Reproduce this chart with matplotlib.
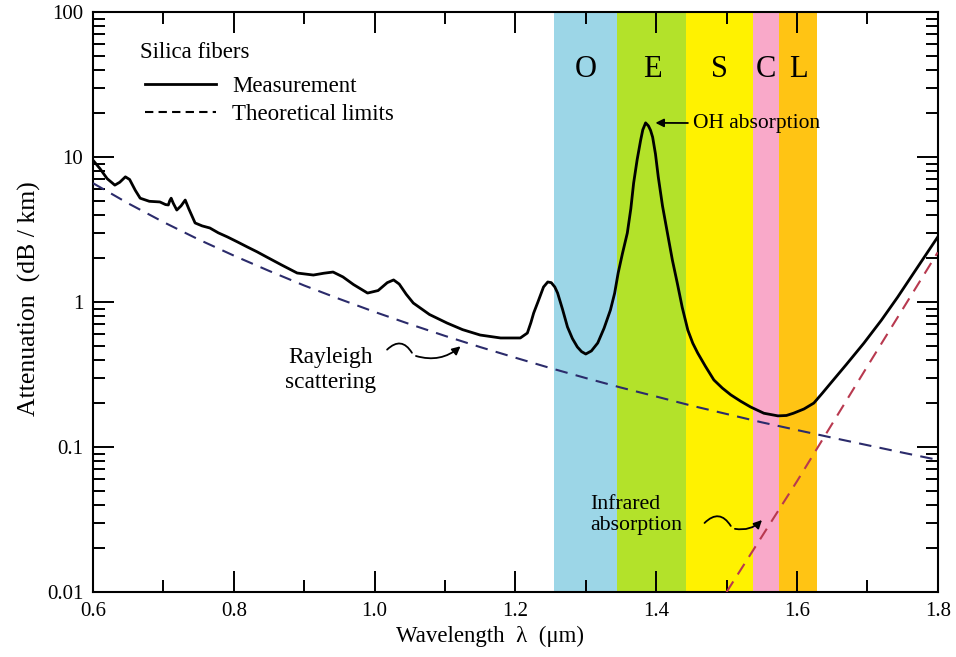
import matplotlib
matplotlib.use("Agg")
import matplotlib.pyplot as plt
from matplotlib.lines import Line2D
from matplotlib.ticker import FixedLocator, LogLocator, NullFormatter

plt.rcParams["font.family"] = ["Liberation Serif", "DejaVu Serif"]

meas_wl = [0.600, 0.610, 0.620, 0.631, 0.638, 0.646, 0.652, 0.660, 0.667, 0.680,
           0.695, 0.703, 0.707, 0.709, 0.711, 0.714, 0.719, 0.725, 0.731, 0.736,
           0.745, 0.755, 0.766, 0.778, 0.791, 0.805, 0.819, 0.833, 0.847, 0.868,
           0.890, 0.913, 0.928, 0.941, 0.955, 0.970, 0.990, 1.005, 1.018, 1.027,
           1.035, 1.045, 1.055, 1.078, 1.103, 1.125, 1.150, 1.179, 1.207, 1.217,
           1.222, 1.226, 1.232, 1.240, 1.246, 1.251, 1.256, 1.260, 1.267, 1.274,
           1.281, 1.288, 1.294, 1.300, 1.308, 1.317, 1.326, 1.335, 1.341, 1.346,
           1.352, 1.359, 1.364, 1.368, 1.373, 1.378, 1.381, 1.385, 1.389, 1.392,
           1.395, 1.399, 1.403, 1.409, 1.416, 1.423, 1.430, 1.437, 1.445, 1.452,
           1.459, 1.470, 1.482, 1.494, 1.506, 1.520, 1.534, 1.553, 1.573, 1.585,
           1.595, 1.610, 1.624, 1.636, 1.648, 1.670, 1.695, 1.720, 1.743, 1.770,
           1.800]
meas_db = [9.5, 8.3, 7.1, 6.4, 6.7, 7.3, 7.0, 5.9, 5.2, 4.95,
           4.9, 4.7, 4.67, 5.0, 5.2, 4.8, 4.31, 4.6, 5.05, 4.4,
           3.51, 3.35, 3.24, 3.0, 2.81, 2.6, 2.40, 2.22, 2.04, 1.80,
           1.585, 1.535, 1.58, 1.61, 1.49, 1.32, 1.153, 1.20, 1.36, 1.42,
           1.33, 1.13, 0.984, 0.82, 0.716, 0.645, 0.592, 0.565, 0.565, 0.611,
           0.72, 0.84, 1.0, 1.27, 1.375, 1.36, 1.27, 1.153, 0.89, 0.673,
           0.56, 0.49, 0.455, 0.438, 0.46, 0.522, 0.66, 0.88, 1.15, 1.585,
           2.15, 2.99, 4.4, 6.62, 9.6, 13.1, 15.4, 17.2, 16.4, 15.3,
           13.7, 10.5, 7.28, 4.6, 2.99, 1.95, 1.35, 0.92, 0.64, 0.52,
           0.445, 0.36, 0.29, 0.255, 0.229, 0.207, 0.189, 0.171, 0.164, 0.165,
           0.171, 0.183, 0.201, 0.235, 0.276, 0.37, 0.52, 0.75, 1.08, 1.7,
           2.81]

# theoretical limits
rayleigh_wl = [0.60, 0.65, 0.70, 0.75, 0.80, 0.85, 0.90, 0.95, 1.00, 1.05, 1.10, 1.15, 1.20,
               1.25, 1.30, 1.35, 1.40, 1.45, 1.50, 1.55, 1.60, 1.65, 1.70, 1.75, 1.80]
rayleigh_db = [6.6, 4.79, 3.56, 2.70, 2.09, 1.64, 1.30, 1.05, 0.855, 0.704, 0.584, 0.489, 0.413,
               0.350, 0.299, 0.257, 0.223, 0.193, 0.169, 0.148, 0.131, 0.116, 0.103, 0.0915, 0.0815]
ir_wl = [1.50, 1.60, 1.70, 1.80]
ir_db = [0.01, 0.058, 0.36, 2.2]

# telecom bands
band_names = ["O", "E", "S", "C", "L"]
band_start = [1.255, 1.345, 1.443, 1.537, 1.575]
band_end = [1.345, 1.443, 1.537, 1.575, 1.629]
band_colors = ["#9cd6e7", "#b3e22a", "#fff200", "#f9a9c9", "#ffc414"]

fig = plt.figure(figsize=(9.56, 6.57), dpi=100)
ax = fig.add_axes([0.0973, 0.0989, 0.8836, 0.8828])

for name, s, e, c in zip(band_names, band_start, band_end, band_colors):
    ax.axvspan(s, e, color=c, lw=0, zorder=0)
    ax.text((s + e) / 2, 40, name, ha="center", va="center", fontsize=22, zorder=3)

ax.plot(meas_wl, meas_db, color="black", lw=2.0, zorder=4, solid_joinstyle="round")
ax.plot(rayleigh_wl, rayleigh_db, color="#2b2b6b", lw=1.5, ls=(0, (6, 4)), zorder=3)
ax.plot(ir_wl, ir_db, color="#b8394f", lw=1.5, ls=(0, (6, 4)), zorder=3)

ax.set_yscale("log")
ax.set_xlim(0.6, 1.8)
ax.set_ylim(0.01, 100)
ax.xaxis.set_major_locator(FixedLocator([0.6, 0.8, 1.0, 1.2, 1.4, 1.6, 1.8]))
ax.xaxis.set_minor_locator(FixedLocator([0.7, 0.9, 1.1, 1.3, 1.5, 1.7]))
ax.set_xticklabels(["0.6", "0.8", "1.0", "1.2", "1.4", "1.6", "1.8"])
ax.yaxis.set_major_locator(FixedLocator([0.01, 0.1, 1, 10, 100]))
ax.set_yticklabels(["0.01", "0.1", "1", "10", "100"])
ax.yaxis.set_minor_locator(LogLocator(base=10, subs=range(2, 10)))
ax.yaxis.set_minor_formatter(NullFormatter())

ax.tick_params(which="both", direction="in", top=True, right=True, width=1.4, labelsize=15)
ax.tick_params(which="major", length=15, pad=7)
ax.tick_params(which="minor", length=8.5)
for sp in ax.spines.values():
    sp.set_linewidth(1.5)

ax.set_xlabel("Wavelength  λ  (μm)", fontsize=16.5)
ax.xaxis.set_label_coords(0.47, -0.058)
ax.set_ylabel("Attenuation  (dB / km)", fontsize=18.5)
ax.yaxis.set_label_coords(-0.062, 0.505)

# legend
ax.text(0.056, 0.93, "Silica fibers", transform=ax.transAxes, fontsize=16.5,
        ha="left", va="center")
handles = [Line2D([], [], color="black", lw=2.0),
           Line2D([], [], color="black", lw=1.5, ls=(0, (4, 2.5)))]
ax.legend(handles, ["Measurement", "Theoretical limits"],
          loc="upper left", bbox_to_anchor=(0.037, 0.925), frameon=False,
          fontsize=16.5, handlelength=3.1, handletextpad=0.7, labelspacing=0.3)

# annotations
ax.annotate("OH absorption", xy=(1.395, 17.2), xytext=(1.453, 17.1),
            fontsize=15.5, va="center", ha="left",
            arrowprops=dict(arrowstyle="-|>", color="black", lw=1.3, mutation_scale=12))
ax.text(0.937, 0.34, "Rayleigh\nscattering", fontsize=16.8, ha="center", va="center",
        multialignment="center", linespacing=1.25)
ax.annotate("", xy=(1.125, 0.51), xytext=(1.055, 0.43),
            arrowprops=dict(arrowstyle="-|>", color="black", lw=1.3, mutation_scale=12,
                            connectionstyle="arc3,rad=0.3"))
ax.annotate("", xy=(1.055, 0.43), xytext=(1.015, 0.455),
            arrowprops=dict(arrowstyle="-", color="black", lw=1.3,
                            connectionstyle="arc3,rad=-0.7"))
ax.text(1.307, 0.034, "Infrared\nabsorption", fontsize=15.7, ha="left", va="center",
        linespacing=1.2)
ax.annotate("", xy=(1.553, 0.0324), xytext=(1.508, 0.0275),
            arrowprops=dict(arrowstyle="-|>", color="black", lw=1.3, mutation_scale=12,
                            connectionstyle="arc3,rad=0.3"))
ax.annotate("", xy=(1.508, 0.0275), xytext=(1.466, 0.029),
            arrowprops=dict(arrowstyle="-", color="black", lw=1.3,
                            connectionstyle="arc3,rad=-0.7"))

fig.savefig("out.png", dpi=100)
